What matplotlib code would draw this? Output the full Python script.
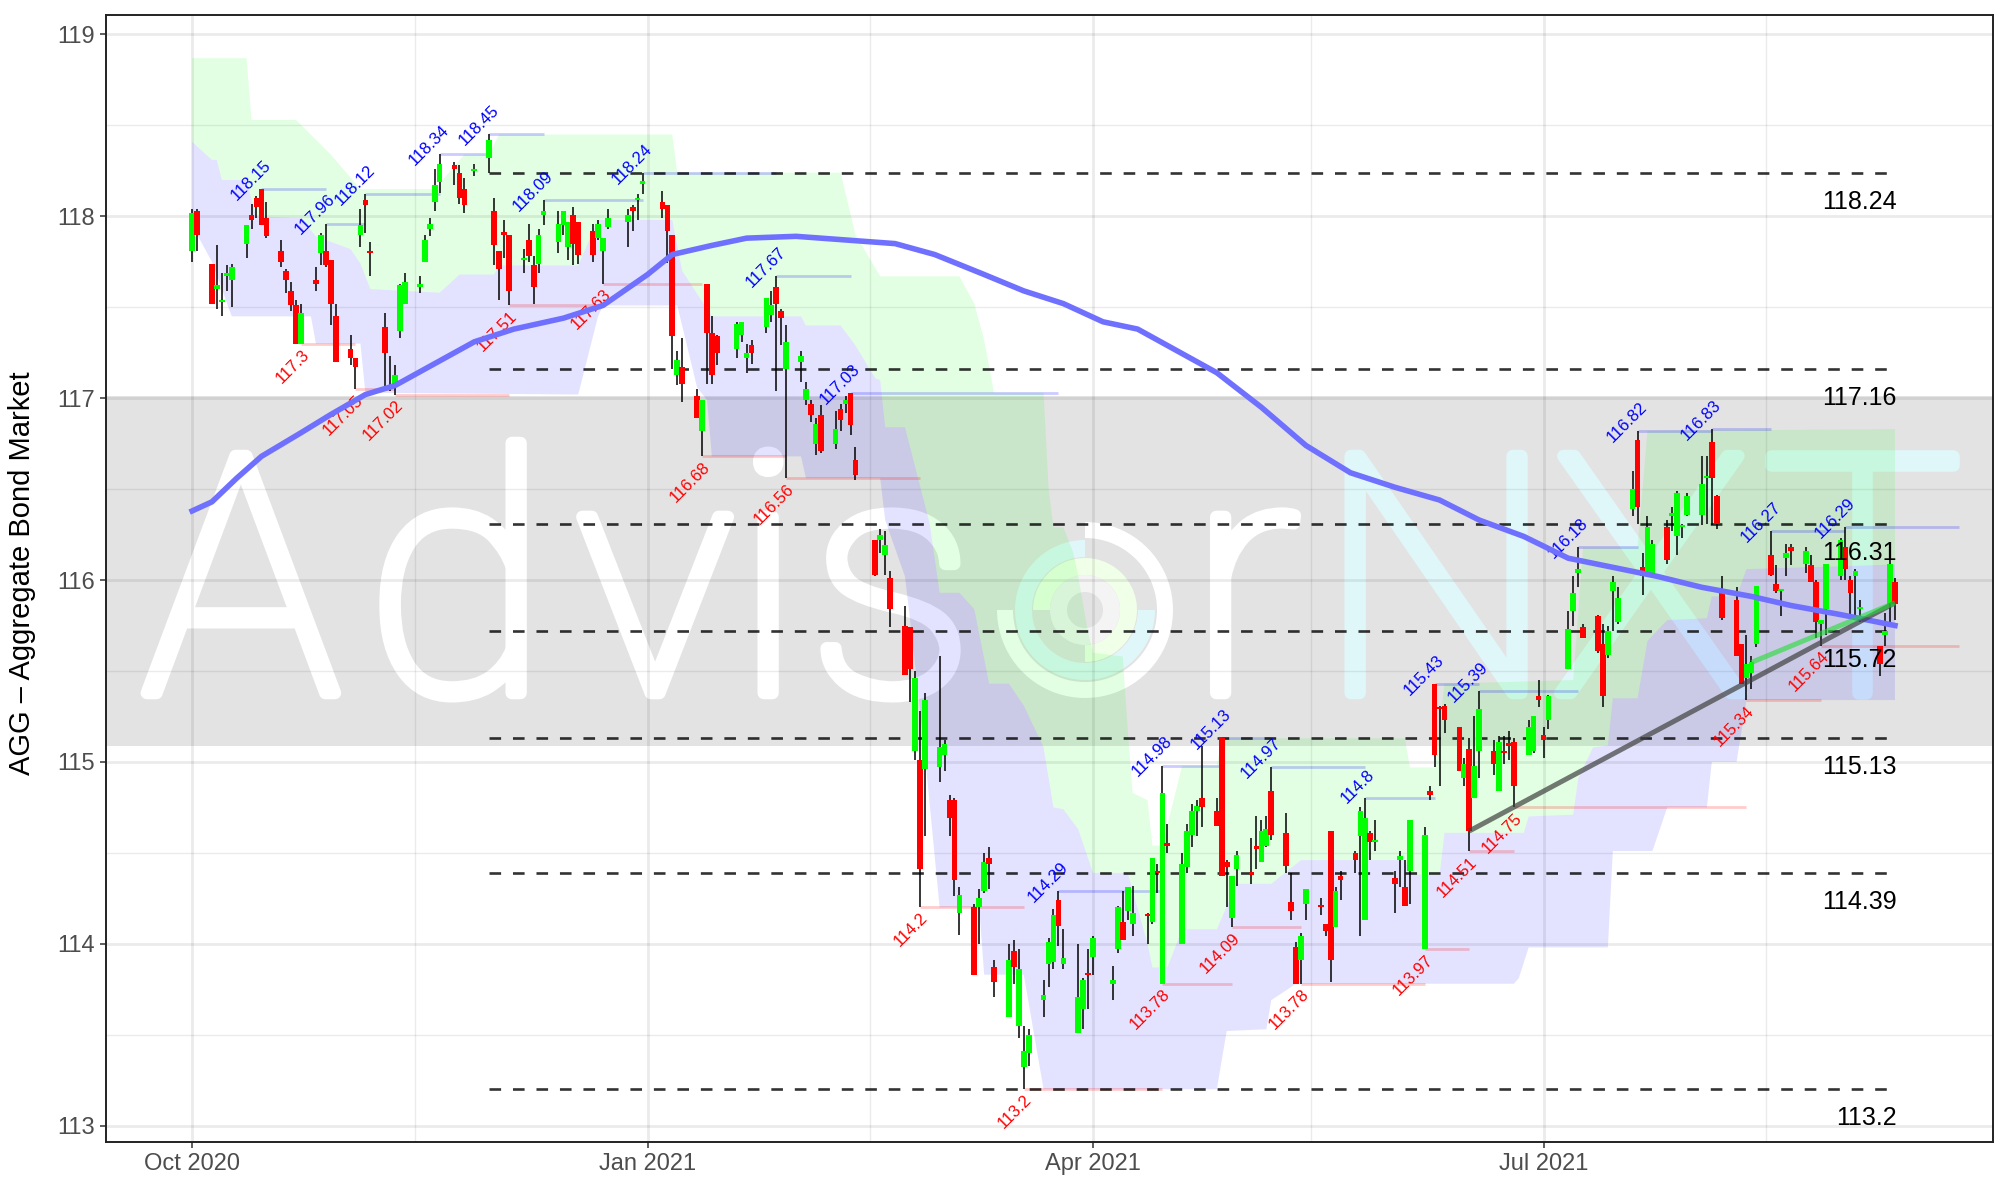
import matplotlib
matplotlib.use("Agg")
import matplotlib.pyplot as plt
import matplotlib.dates as mdates
import matplotlib.patheffects as pe
from matplotlib.patches import Wedge
import pandas as pd

plt.rcParams['font.family'] = ['Liberation Sans', 'DejaVu Sans']

holidays = ["2020-11-26", "2020-12-25", "2021-01-01", "2021-01-18", "2021-02-15",
            "2021-04-02", "2021-05-31", "2021-07-05", "2021-09-06"]
days = pd.bdate_range("2020-10-01", "2021-09-10").difference(pd.to_datetime(holidays))

opens = [
    117.81,118.03,117.74,117.60,117.53,117.67,117.65,117.85,118.01,118.10,118.15,117.99,117.81,117.70,117.59,117.51,117.30,117.65,117.80,117.81,117.76,117.45,
    117.27,117.22,117.90,118.09,117.81,117.39,117.05,117.06,117.37,117.52,117.61,117.75,117.93,118.08,118.19,118.28,118.24,118.15,118.25,118.32,
    118.03,117.81,117.91,117.90,117.76,117.87,117.73,117.74,118.01,117.86,117.95,117.83,118.01,117.97,117.92,117.88,117.81,117.94,117.97,118.05,118.09,118.18,
    118.08,118.06,117.90,117.13,117.17,117.01,116.82,117.63,117.36,117.34,117.27,117.35,117.22,117.29,117.39,117.46,117.61,117.48,117.16,
    117.20,116.99,116.97,116.75,116.91,116.75,116.94,116.97,117.03,116.66,116.22,116.22,116.14,116.01,115.75,115.74,115.06,115.01,114.96,
    114.97,115.04,114.79,114.79,114.17,114.20,114.20,114.29,114.47,113.87,113.60,113.96,113.55,113.32,113.40,113.69,113.89,113.90,114.24,113.89,113.51,113.64,113.84,
    113.93,113.78,113.97,114.12,114.18,114.11,114.16,114.12,114.40,113.78,114.55,114.00,114.42,114.60,114.73,114.80,114.73,115.13,114.45,114.14,114.41,
    114.39,114.54,114.45,114.54,114.84,114.61,114.23,113.98,113.91,114.22,114.21,114.11,114.62,114.09,114.37,114.50,114.59,114.13,114.61,114.56,
    114.36,114.46,114.31,114.40,113.97,114.84,115.43,115.30,115.31,115.19,114.91,115.07,114.80,115.06,115.06,114.84,115.06,115.10,115.11,115.04,115.06,115.36,
    115.15,115.23,115.51,115.83,116.04,115.74,115.80,115.65,115.59,115.94,115.77,116.39,116.77,116.07,116.03,116.03,116.29,116.35,116.24,116.29,116.36,
    116.36,116.56,116.76,116.46,115.93,115.89,115.65,115.46,115.49,115.65,116.14,115.98,115.94,116.12,116.18,116.09,116.08,115.99,115.76,115.84,116.02,116.18,
    116.00,116.02,115.84,115.64,115.70,115.87,115.99]
highs = [
    118.04,118.04,117.74,117.84,117.69,117.73,117.74,117.95,118.07,118.11,118.15,118.08,117.87,117.71,117.64,117.54,117.52,117.72,117.91,117.96,117.76,117.52,
    117.35,117.22,118.04,118.12,117.86,117.47,117.23,117.18,117.63,117.69,117.67,117.90,117.99,118.26,118.34,118.30,118.28,118.21,118.29,118.45,
    118.10,117.81,117.98,117.90,117.82,117.96,117.78,117.93,118.09,118.03,118.03,117.97,118.05,117.97,117.96,117.98,117.88,118.04,118.04,118.06,118.12,118.24,
    118.14,118.06,117.90,117.26,117.33,117.05,116.99,117.63,117.45,117.35,117.42,117.42,117.30,117.32,117.55,117.59,117.67,117.49,117.40,
    117.26,117.09,116.99,116.89,116.96,116.93,116.97,117.01,117.03,116.73,116.22,116.28,116.27,116.05,115.86,115.74,115.50,115.28,115.38,
    115.58,115.12,114.82,114.80,114.31,114.22,114.30,114.50,114.53,113.91,114.00,114.02,113.97,113.55,113.53,113.80,114.03,114.19,114.29,114.08,114.00,113.81,113.97,
    114.04,113.88,114.21,114.29,114.31,114.32,114.17,114.47,114.44,114.98,114.66,114.50,114.66,114.77,114.79,115.09,114.80,115.13,114.46,114.37,114.51,
    114.58,114.70,114.68,114.70,114.97,114.72,114.39,114.01,114.06,114.30,114.25,114.11,114.62,114.31,114.40,114.51,114.75,114.80,114.62,114.68,
    114.40,114.51,114.46,114.68,114.64,114.87,115.43,115.31,115.32,115.19,115.02,115.13,115.25,115.39,115.12,115.14,115.14,115.17,115.13,115.23,115.25,115.45,
    115.19,115.37,115.83,116.02,116.18,115.76,115.81,115.76,115.75,116.02,115.96,116.60,116.82,116.15,116.35,116.22,116.33,116.40,116.49,116.31,116.48,
    116.68,116.68,116.83,116.47,116.02,115.96,115.65,115.70,115.58,115.97,116.27,116.08,115.95,116.20,116.20,116.18,116.14,116.00,115.78,116.09,116.23,116.29,
    116.02,116.06,115.89,115.64,115.82,116.19,116.01]
lows = [
    117.75,117.81,117.52,117.49,117.45,117.59,117.50,117.77,117.93,117.99,117.95,117.88,117.72,117.58,117.48,117.30,117.30,117.59,117.73,117.72,117.40,117.20,
    117.18,117.05,117.83,117.91,117.67,117.05,117.04,117.02,117.33,117.52,117.58,117.75,117.89,118.03,118.13,118.17,118.07,118.02,118.22,118.24,
    117.73,117.54,117.77,117.51,117.69,117.75,117.52,117.69,117.95,117.80,117.90,117.76,117.73,117.74,117.75,117.87,117.63,117.93,117.83,117.92,117.98,118.12,
    117.99,117.745,117.16,117.07,116.98,116.89,116.68,117.08,117.08,117.18,117.22,117.31,117.14,117.19,117.36,117.42,117.04,117.29,116.56,
    117.09,116.96,116.87,116.69,116.70,116.72,116.82,116.92,116.80,116.55,116.02,116.15,116.03,115.74,115.48,115.33,115.01,114.20,114.59,
    114.89,114.95,114.59,114.26,114.05,113.83,114.00,114.28,114.30,113.71,113.60,113.78,113.48,113.20,113.33,113.60,113.76,113.86,113.99,113.86,113.51,113.53,113.64,
    113.83,113.69,113.95,114.02,114.13,114.04,114.00,114.11,114.28,113.78,114.50,114.00,114.39,114.53,114.59,114.64,114.65,114.37,114.20,114.09,114.32,
    114.33,114.41,114.45,114.53,114.57,114.39,114.13,113.78,113.78,114.13,114.16,114.04,113.79,114.09,114.24,114.39,114.04,114.13,114.46,114.51,
    114.17,114.31,114.21,114.22,113.97,114.79,114.97,114.87,115.16,114.95,114.87,114.51,114.80,114.91,114.93,114.84,114.99,115.01,114.75,115.04,115.05,115.30,
    115.02,115.18,115.51,115.75,115.96,115.68,115.60,115.30,115.57,115.72,115.76,116.35,116.31,115.92,116.03,116.03,116.09,116.27,116.14,116.23,116.35,
    116.30,116.31,116.30,116.28,115.78,115.58,115.43,115.34,115.40,115.63,116.02,115.93,115.80,116.02,116.08,116.04,115.99,115.68,115.64,115.70,116.00,116.00,
    115.80,115.80,115.77,115.47,115.64,115.76,115.78]
closes = [
    118.02,117.90,117.52,117.62,117.54,117.69,117.72,117.95,117.98,118.05,117.95,117.89,117.75,117.65,117.51,117.30,117.47,117.63,117.90,117.73,117.52,117.20,
    117.22,117.17,117.95,118.06,117.80,117.25,117.06,117.13,117.62,117.64,117.63,117.87,117.96,118.17,118.29,118.26,118.10,118.06,118.26,118.42,
    117.84,117.71,117.90,117.59,117.77,117.78,117.61,117.90,118.03,117.96,118.03,117.97,117.85,117.79,117.79,117.96,117.88,117.99,118.01,118.03,118.10,118.19,
    118.04,117.92,117.34,117.21,117.08,116.89,116.99,117.36,117.13,117.25,117.41,117.42,117.25,117.25,117.55,117.51,117.52,117.44,117.31,
    117.23,117.05,116.91,116.86,116.71,116.83,116.88,116.99,116.85,116.58,116.03,116.25,116.19,115.84,115.48,115.51,115.46,114.41,115.34,
    115.08,115.10,114.69,114.35,114.27,113.83,114.25,114.45,114.44,113.79,113.91,113.87,113.86,113.41,113.50,113.72,114.01,114.16,114.10,113.92,113.71,113.80,113.83,
    114.03,113.80,114.20,114.02,114.31,114.17,114.15,114.47,114.39,114.83,114.54,114.44,114.62,114.73,114.76,114.75,114.65,114.37,114.42,114.37,114.49,
    114.38,114.52,114.62,114.63,114.60,114.43,114.18,113.78,114.04,114.30,114.20,114.07,113.91,114.29,114.35,114.46,114.73,114.69,114.56,114.57,
    114.33,114.48,114.21,114.68,114.60,114.82,115.04,115.29,115.23,114.95,114.99,114.62,114.98,115.29,114.99,115.11,115.05,115.09,114.87,115.19,115.25,115.34,
    115.12,115.36,115.73,115.93,116.06,115.68,115.61,115.36,115.72,115.99,115.90,116.50,116.40,116.02,116.29,116.20,116.11,116.37,116.48,116.30,116.46,
    116.53,116.57,116.56,116.31,115.79,115.58,115.43,115.54,115.55,115.97,116.03,115.94,115.95,116.15,116.16,116.16,115.99,115.77,115.78,116.09,116.22,116.06,
    115.93,116.05,115.85,115.54,115.72,116.09,115.87]

# moving average
ma_dates = ["2020-10-01","2020-10-05","2020-10-10","2020-10-15","2020-10-23","2020-10-29","2020-11-05","2020-11-11",
            "2020-11-19","2020-11-27","2020-12-05","2020-12-15","2020-12-23","2021-01-01","2021-01-06","2021-01-14",
            "2021-01-21","2021-01-31","2021-02-10","2021-02-20","2021-02-28","2021-03-10","2021-03-18","2021-03-26",
            "2021-04-03","2021-04-10","2021-04-18","2021-04-26","2021-05-05","2021-05-14","2021-05-23","2021-06-01",
            "2021-06-10","2021-06-18","2021-06-27","2021-07-06","2021-07-15","2021-07-24","2021-08-02","2021-08-12",
            "2021-08-20","2021-08-30","2021-09-10"]
ma_vals = [116.38,116.43,116.56,116.68,116.81,116.91,117.02,117.07,117.19,117.31,117.38,117.44,117.51,117.68,117.79,117.84,
           117.88,117.89,117.87,117.85,117.79,117.68,117.59,117.52,117.42,117.38,117.26,117.14,116.95,116.74,116.59,116.51,
           116.44,116.33,116.24,116.12,116.07,116.02,115.96,115.91,115.86,115.81,115.75]

# channel: upper edge, middle, lower edge
upper_dates = ["2020-10-01","2020-10-12","2020-10-13","2020-10-22","2020-10-29","2020-11-04","2020-11-19","2020-11-25",
               "2020-11-30","2020-12-02","2021-01-06","2021-01-07","2021-02-09","2021-02-12","2021-02-17","2021-03-05",
               "2021-03-08","2021-03-10","2021-03-12","2021-03-22","2021-03-23","2021-03-24","2021-03-26","2021-03-28",
               "2021-03-29","2021-03-31","2021-04-01","2021-04-07","2021-04-08","2021-04-09","2021-04-12","2021-04-13",
               "2021-04-15","2021-04-19","2021-04-26","2021-04-27","2021-06-03","2021-06-04","2021-06-09","2021-06-11",
               "2021-07-07","2021-07-09","2021-07-20","2021-07-22","2021-09-10"]
upper_vals = [118.87,118.87,118.53,118.53,118.34,118.15,118.15,118.34,118.34,118.45,118.45,118.24,118.24,117.90,117.67,117.67,
              117.52,117.32,117.03,117.03,116.51,116.29,116.29,116.15,116.02,115.71,115.60,115.58,115.18,114.83,114.79,114.54,
              114.54,114.98,114.98,115.13,115.13,114.97,114.97,115.43,115.45,116.18,116.18,116.82,116.83]
mid_dates = ["2020-10-01","2020-10-05","2020-10-06","2020-10-07","2020-10-12","2020-10-13","2020-10-14","2020-10-23",
             "2020-10-26","2020-11-02","2020-11-04","2020-11-06","2020-11-20","2020-11-24","2020-12-01","2020-12-02",
             "2020-12-18","2020-12-22","2021-01-06","2021-01-08","2021-01-14","2021-02-01","2021-02-02","2021-02-09",
             "2021-02-12","2021-02-16","2021-02-17","2021-02-18","2021-02-22","2021-02-27","2021-03-01","2021-03-05",
             "2021-03-08","2021-03-11","2021-03-15","2021-03-18","2021-03-22","2021-03-24","2021-03-26","2021-03-29",
             "2021-04-01","2021-04-08","2021-04-12","2021-04-13","2021-04-16","2021-04-19","2021-04-26","2021-04-30",
             "2021-05-07","2021-05-13","2021-06-03","2021-06-04","2021-06-10","2021-06-11","2021-06-27","2021-06-28",
             "2021-07-07","2021-07-08","2021-07-11","2021-07-14","2021-07-15","2021-07-20","2021-07-22","2021-07-26",
             "2021-08-03","2021-08-04","2021-08-09","2021-08-11","2021-09-10"]
mid_vals = [118.41,118.31,118.31,118.20,118.20,118.09,118.00,117.99,117.89,117.82,117.74,117.60,117.58,117.68,117.68,117.73,
            117.73,117.98,117.98,117.70,117.45,117.45,117.40,117.40,117.29,117.11,117.10,116.84,116.84,116.31,115.93,115.93,
            115.84,115.43,115.43,115.31,115.08,114.75,114.74,114.63,114.39,114.39,114.00,113.87,113.87,114.08,114.08,114.33,
            114.33,114.46,114.46,114.38,114.38,114.61,114.61,114.70,114.71,114.91,115.08,115.09,115.35,115.35,115.665,115.78,
            115.79,115.91,115.91,116.06,116.085]
lower_dates = ["2020-10-01","2020-10-05","2020-10-09","2020-10-25","2020-10-26","2020-11-04","2020-11-05","2020-12-18",
               "2020-12-22","2020-12-23","2021-01-07","2021-01-11","2021-01-13","2021-01-14","2021-02-01","2021-02-02",
               "2021-02-17","2021-02-18","2021-02-22","2021-02-23","2021-02-26","2021-03-01","2021-03-09","2021-03-10",
               "2021-03-18","2021-03-22","2021-04-26","2021-04-28","2021-05-06","2021-05-07","2021-05-12","2021-06-25",
               "2021-06-26","2021-06-28","2021-07-14","2021-07-15","2021-07-23","2021-07-26","2021-08-03","2021-08-04",
               "2021-08-09","2021-08-11","2021-09-10"]
lower_vals = [117.95,117.75,117.45,117.45,117.30,117.30,117.03,117.02,117.45,117.51,117.51,117.06,116.99,116.68,116.68,116.56,
              116.56,116.33,116.02,115.79,115.05,114.20,114.20,113.83,113.83,113.20,113.20,113.52,113.53,113.69,113.78,113.78,
              113.81,113.98,113.98,114.51,114.51,114.75,114.75,115.00,115.00,115.34,115.34]

# support / resistance lines and their labels
level_vals = [118.24, 117.16, 116.31, 115.72, 115.13, 114.39, 113.2]
level_start = "2020-11-30"
level_end = "2021-09-10"
# swing highs: date, value; the segment runs on to the next swing
high_dates = ["2020-10-15","2020-10-28","2020-11-05","2020-11-20","2020-11-30","2020-12-11","2020-12-31","2021-01-27",
              "2021-02-11","2021-03-25","2021-04-15","2021-04-27","2021-05-07","2021-05-26","2021-06-09","2021-06-18",
              "2021-07-08","2021-07-20","2021-08-04","2021-08-16","2021-08-31","2021-09-23"]
high_vals = [118.15,117.96,118.12,118.34,118.45,118.09,118.24,117.67,117.03,114.29,114.98,115.13,114.97,114.8,115.43,115.39,
             116.18,116.82,116.83,116.27,116.29]
low_dates = ["2020-10-23","2020-11-03","2020-11-11","2020-12-04","2020-12-23","2021-01-12","2021-01-29","2021-02-25",
             "2021-03-18","2021-04-15","2021-04-29","2021-05-13","2021-06-07","2021-06-16","2021-06-25","2021-08-11",
             "2021-08-26","2021-09-23"]
low_vals = [117.3,117.05,117.02,117.51,117.63,116.68,116.56,114.2,113.2,113.78,114.09,113.78,113.97,114.51,114.75,115.34,115.64]
trend_low_dates = ["2021-06-16", "2021-09-10"]
trend_low_vals = [114.62, 115.875]
trend_green_dates = ["2021-08-12", "2021-09-10"]
trend_green_vals = [115.547, 115.875]

# watermark letters: letter, colour, left-to-right position in inches
wm_letters = ["A", "d", "v", "i", "s", "r", "N", "X", "T"]
wm_colors = ["white"] * 6 + ["#e0f7fa"] * 3
wm_pos = [2.41, 4.57, 6.55, 7.68, 8.92, 12.44, 14.36, 16.51, 18.62]

def dt(s):
    return pd.to_datetime(s)

fig = plt.figure(figsize=(20.07, 11.81), dpi=100)
ax = fig.add_axes([106 / 2007, 1 - 1142 / 1181, (1993 - 106) / 2007, (1142 - 15) / 1181])

ax.set_xlim(dt("2020-10-01") - pd.Timedelta(days=17.4), dt("2020-10-01") + pd.Timedelta(days=363.8))
ax.set_ylim(112.91, 119.107)

# grey watermark band, letters and logo sit under the grid
ax.axhspan(115.09, 117.01, color="#e3e3e3", lw=0, zorder=1)
for t, c, p in zip(wm_letters, wm_colors, wm_pos):
    wm = ax.text(p, 4.88, t, transform=fig.dpi_scale_trans, fontsize=240, family="Roboto", weight="light",
                 color=c, ha="center", va="baseline", zorder=1.5, clip_on=True)
    wm.set_path_effects([pe.withStroke(linewidth=9, foreground=c)])
rings = [(0.88, 0.16, 180, 450, "white"),
         (0.70, 0.17, 90, 360, "#e0f7fa"),
         (0.52, 0.17, -90, 180, "#f0ffe8"),
         (0.35, 0.17, 0, 360, "#f4f4f4")]
for r, w, t1, t2, c in rings:
    ax.add_patch(Wedge((10.85, 5.71), r, t1, t2, width=w, color=c, lw=0,
                       transform=fig.dpi_scale_trans, zorder=1.6))

# channel
ax.fill(list(dt(upper_dates)) + list(dt(mid_dates))[::-1], upper_vals + mid_vals[::-1],
        color=(0, 1, 0, 0.11), lw=0, zorder=3)
ax.fill(list(dt(mid_dates)) + list(dt(lower_dates))[::-1], mid_vals + lower_vals[::-1],
        color=(0, 0, 1, 0.11), lw=0, zorder=3)

# swing segments
for i, v in enumerate(high_vals):
    ax.plot([dt(high_dates[i]), dt(high_dates[i + 1])], [v, v], color="blue", alpha=0.2, lw=2, zorder=3.5,
            solid_capstyle="butt")
    ax.annotate(str(v), (dt(high_dates[i]), v), xytext=(5, 19), textcoords="offset points", color="blue",
                fontsize=12, rotation=45, rotation_mode="anchor", ha="right", va="center", zorder=6)
for i, v in enumerate(low_vals):
    ax.plot([dt(low_dates[i]), dt(low_dates[i + 1])], [v, v], color="red", alpha=0.2, lw=2, zorder=3.5,
            solid_capstyle="butt")
    ax.annotate(str(v), (dt(low_dates[i]), v), xytext=(4, -6), textcoords="offset points", color="red",
                fontsize=12, rotation=45, rotation_mode="anchor", ha="right", va="center", zorder=6)

# levels
ax.hlines(level_vals, dt(level_start), dt(level_end), color="black", alpha=0.8, lw=1.9,
          linestyles=(0, (4.4, 4.5)), zorder=4)
for v in level_vals:
    ax.annotate(str(v), (dt(level_end), v), xytext=(1, -21), textcoords="offset points", color="black",
                fontsize=18, ha="right", va="center", zorder=8)

# candles
cols = ["#00ff00" if c >= o else "#ff0000" for o, c in zip(opens, closes)]
ax.vlines(days, lows, highs, color="black", lw=1.1, zorder=5)
bot = [min(o, c) for o, c in zip(opens, closes)]
hgt = [max(abs(o - c), 0.012) for o, c in zip(opens, closes)]
ax.bar(days, hgt, bottom=bot, width=1.15, color=cols, lw=0, zorder=5.5)

ax.plot(dt(ma_dates), ma_vals, color="#7070ff", lw=4, zorder=6.5, solid_joinstyle="round")
ax.plot(dt(trend_low_dates), trend_low_vals, color="#404040", alpha=0.7, lw=3.6, zorder=6.6, solid_capstyle="butt")
ax.plot(dt(trend_green_dates), trend_green_vals, color="#22dd33", alpha=0.6, lw=3.6, zorder=6.6, solid_capstyle="butt")

# axes
ax.set_axisbelow(False)
ax.xaxis.set_major_locator(mdates.MonthLocator(bymonth=[1, 4, 7, 10]))
ax.xaxis.set_major_formatter(mdates.DateFormatter("%b %Y"))
ax.xaxis.set_minor_locator(mdates.MonthLocator(bymonth=[2, 5, 8, 11], bymonthday=15))
ax.set_yticks([113, 114, 115, 116, 117, 118, 119])
ax.set_yticks([113.5, 114.5, 115.5, 116.5, 117.5, 118.5], minor=True)
ax.grid(True, which="major", color="black", alpha=0.08, lw=2)
ax.grid(True, which="minor", color="black", alpha=0.08, lw=1)
ax.tick_params(which="major", labelsize=17, labelcolor="#4d4d4d", color="#333333", length=4, width=1.1, pad=4)
ax.tick_params(which="minor", length=0)
ax.set_ylabel("AGG – Aggregate Bond Market", fontsize=21, color="black", labelpad=15, y=0.505)
for s in ax.spines.values():
    s.set_linewidth(1.4)
    s.set_color("#222222")
    s.set_zorder(10)

fig.savefig("out.png", dpi=100)
